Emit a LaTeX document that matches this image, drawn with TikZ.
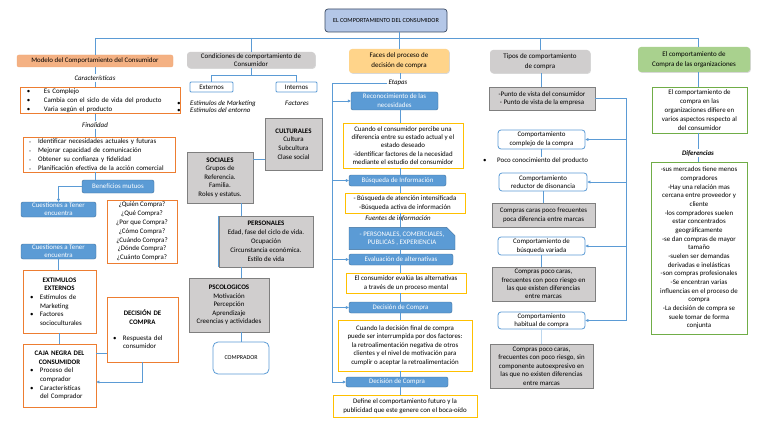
\documentclass[tikz,border=0pt]{standalone}
\usepackage{fontspec}
\setmainfont{Carlito}
\usetikzlibrary{arrows.meta,shapes.misc,shadows}

\definecolor{lineblue}{HTML}{5B9BD5}
\definecolor{bluefill}{HTML}{5B9BD5}
\definecolor{blueedge}{HTML}{41719C}
\definecolor{titlefill}{HTML}{B4C7E7}
\definecolor{titleedge}{HTML}{3A4A63}
\definecolor{salmon}{HTML}{F4B183}
\definecolor{orangeedge}{HTML}{ED7D31}
\definecolor{yellowedge}{HTML}{FFC000}
\definecolor{facesfill}{HTML}{FFD48A}
\definecolor{greyfill}{HTML}{D0CECE}
\definecolor{greyedge}{HTML}{7F7F7F}
\definecolor{greenfill}{HTML}{A9D18E}
\definecolor{greenedge}{HTML}{70AD47}

\newcommand\itembul[1]{\makebox[#1][l]{\textbullet}}
\newcommand\itemgap[1]{\makebox[#1]{}}
\newcommand\smallbul{\makebox[9pt][l]{\color{greyedge}\fontsize{4}{4}\selectfont\textbullet}}

\begin{document}
\begin{tikzpicture}[x=1pt,y=-1pt]

 \tikzset{
    every node/.style={font=\fontsize{6.9}{8.6}\selectfont, inner sep=1pt, align=center},
    sz/.style 2 args={minimum width=#1pt, minimum height=#2pt},
    conn/.style={draw=lineblue, line width=0.6pt},
    arrowconn/.style={conn, -{Triangle[length=3pt,width=2.8pt]}},
    shade/.style={drop shadow={shadow xshift=0.8pt, shadow yshift=-0.8pt, opacity=0.3}},
    titlebox/.style={draw=titleedge, line width=0.7pt, fill=titlefill, rounded corners=3pt},
    headbox/.style={fill=#1, rounded corners=3pt, shade},
    bluebox/.style={draw=blueedge, fill=bluefill, text=white, rounded corners=2pt},
    orangebox/.style={draw=orangeedge, line width=0.8pt, fill=white},
    yellowbox/.style={draw=yellowedge, line width=0.8pt, fill=white},
    greybox/.style={draw=greyedge, fill=greyfill, shade},
    outlinebox/.style={draw=lineblue, line width=0.8pt, fill=white, rounded corners=3pt},
    lbl/.style={font=\fontsize{6.9}{8.6}\selectfont\itshape},
  }

  \useasboundingbox[fill=white] (0,0) rectangle (768,433);

  % title and top bar
  \node[titlebox, sz={122}{23}, font=\fontsize{6.2}{7}\selectfont] (title) at (386,20.5) {EL COMPORTAMIENTO DEL CONSUMIDOR};
  \coordinate (bar) at (0,38);

  % column 1: modelo
  \node[fill=salmon, draw=salmon!85!orangeedge, rounded corners=2pt, sz={156}{12}] (modelo) at (95,61) {Modelo del Comportamiento del Consumidor};
  \node[lbl] (caract) at (95,78) {Características};
  \node[orangebox, sz={160}{25}, text width=146pt, align=left, font=\fontsize{6.9}{9}\selectfont] (caracbox) at (100,100.5)
    {\itembul{17pt}Es Complejo\\ \itembul{17pt}Cambia con el siclo de vida del producto\\ \itembul{17pt}Varia según el producto};
  \node[lbl] (finalidad) at (95,125) {Finalidad};
  \node[orangebox, sz={152}{35}, text width=140pt, align=left, font=\fontsize{6.9}{9}\selectfont] (finalbox) at (99,154.5)
    {\smallbul Identificar necesidades actuales y futuras\\ \smallbul Mejorar capacidad de comunicación\\
     \smallbul Obtener su confianza y fidelidad\\ \smallbul Planificación efectiva de la acción comercial};
  \node[bluebox, sz={72}{13}] (benef) at (118,186.5) {Beneficios mutuos};
  \node[bluebox, sz={75}{15}, font=\fontsize{6.9}{8}\selectfont] (cuest1) at (58.5,209.5) {Cuestiones a Tener\\encuentra};
  \node[orangebox, sz={70}{63}, font=\fontsize{6.9}{8.8}\selectfont] (preguntas) at (142,231.5)
    {¿Quién Compra?\\¿Qué Compra?\\¿Por que Compra?\\¿Cómo Compra?\\¿Cuándo Compra?\\¿Dónde Compra?\\¿Cuánto Compra?};
  \node[bluebox, sz={75}{15}, font=\fontsize{6.9}{8}\selectfont] (cuest2) at (58.5,251.5) {Cuestiones a Tener\\encuentra};
  \node[orangebox, sz={73}{63}, text width=59pt, align=left] (extim) at (59.5,301.5)
    {\makebox[\linewidth]{\textbf{EXTIMULOS}}\\ \makebox[\linewidth]{\textbf{EXTERNOS}}\\
     \itembul{10pt}Estímulos de\\ \itemgap{10pt}Marketing\\ \itembul{10pt}Factores\\ \itemgap{10pt}socioculturales};
  \node[orangebox, sz={73}{63}, text width=59pt, align=left] (caja) at (59.5,375.5)
    {\makebox[\linewidth]{\textbf{CAJA NEGRA DEL}}\\ \makebox[\linewidth]{\textbf{CONSUMIDOR}}\\
     \itembul{10pt}Proceso del\\ \itemgap{10pt}comprador\\ \itembul{10pt}Características\\ \itemgap{10pt}del Comprador};
  \node[orangebox, sz={71}{65}, text width=59pt, align=left] (decis) at (142.5,329.5)
    {\makebox[\linewidth]{\textbf{DECISIÓN DE}}\\ \makebox[\linewidth]{\textbf{COMPRA}}\\[7pt]
     \itembul{10pt}Respuesta del\\ \itemgap{10pt}consumidor};

  % column 2: condiciones
  \node[headbox=greyfill, sz={128}{16}, font=\fontsize{6.9}{8}\selectfont] (condic) at (251,60) {Condiciones de comportamiento de\\Consumidor};
  \node[outlinebox, rounded corners=1pt, sz={43}{10}] (externos) at (211.5,87) {Externos};
  \node[outlinebox, rounded corners=1pt, sz={41}{10}] (internos) at (296.5,87) {Internos};
  \node[lbl, anchor=west, align=left, font=\fontsize{6.9}{7.4}\selectfont\itshape] (estimulos) at (176,106.5)
    {\itembul{13pt}Estímulos de Marketing\\ \itembul{13pt}Estímulos del entorno};
  \node[lbl] (factores) at (297,103) {Factores};
  \node[greybox, sz={57}{52}] (cultur) at (293.5,144) {\textbf{CULTURALES}\\Cultura\\Subcultura\\Clase social};
  \node[greybox, sz={66}{51}] (socia) at (220,177.5) {\textbf{SOCIALES}\\Grupos de\\Referencia.\\Familia.\\Roles y estatus.};
  \node[greybox, sz={94}{51}, font=\fontsize{6.9}{9}\selectfont] (perso) at (266,241.5)
    {\textbf{PERSONALES}\\Edad, fase del ciclo de vida.\\Ocupación\\Circunstancia económica.\\Estilo de vida};
  \node[greybox, sz={80}{54}] (psico) at (229,305) {\textbf{PSCOLOGICOS}\\Motivación\\Percepción\\Aprendizaje\\Creencias y actividades};
  \node[outlinebox, rounded corners=5pt, sz={56}{32}, font=\fontsize{6}{7}\selectfont] (compr) at (241,358) {COMPRADOR};

  % column 3: faces
  \node[headbox=facesfill, sz={100}{24}, font=\fontsize{7}{10}\selectfont] (faces) at (399,61) {Faces del proceso de\\decisión de compra};
  \node[lbl] (etapas) at (398,83) {Etapas};
  \node[bluebox, sz={87}{18}, font=\fontsize{6.9}{9}\selectfont] (recon) at (394.5,101) {Reconocimiento de las\\necesidades};
  \node[yellowbox, sz={120}{45}, font=\fontsize{6.9}{8.4}\selectfont] (yel1) at (403,145.5)
    {Cuando el consumidor percibe una\\diferencia entre su estado actual y el\\estado deseado\\-identificar factores de la necesidad\\mediante el estudio del consumidor};
  \node[bluebox, sz={97}{11}] (busq) at (397.5,180.5) {Búsqueda de Información};
  \node[yellowbox, sz={120}{20}, font=\fontsize{6.9}{8.4}\selectfont] (yel2) at (405,203)
    {- Búsqueda de atención intensificada\\-Búsqueda activa de información};
  \node[lbl] (fuentes) at (398,219) {Fuentes de información};
  \node[bluebox, chamfered rectangle, chamfered rectangle corners=north east, chamfered rectangle xsep=5pt,
        rounded corners=0pt, sz={106}{21}, font=\fontsize{6.9}{8.4}\selectfont] (pcpe) at (402,238.5)
    {- PERSONALES, COMERCIALES,\\PUBLICAS , EXPERIENCIA};
  \node[bluebox, sz={104}{11}] (eval) at (401,259.5) {Evaluación de alternativas};
  \node[yellowbox, sz={120}{20}, font=\fontsize{6.9}{8.4}\selectfont] (yel3) at (406,283)
    {El consumidor evalúa las alternativas\\a través de un proceso mental};
  \node[bluebox, sz={103}{11}] (dec1) at (400.5,307.5) {Decisión de Compra};
  \node[yellowbox, sz={134}{51}, font=\fontsize{6.9}{8.4}\selectfont] (yel4) at (405,345.5)
    {Cuando la decisión final de compra\\puede ser interrumpida por dos factores:\\la retroalimentación negativa de otros\\clientes y el nivel de motivación para\\cumplir o aceptar la retroalimentación};
  \node[bluebox, sz={102}{10}] (dec2) at (397,382) {Decisión de Compra};
  \node[yellowbox, sz={144}{22}, font=\fontsize{6.9}{8.4}\selectfont] (yel5) at (405,406)
    {Define el comportamiento futuro y la\\publicidad que este genere con el boca-oído};

  % column 4: tipos
  \node[headbox=greyfill, sz={100}{23}, font=\fontsize{7}{10}\selectfont] (tipos) at (540,61.5) {Tipos de comportamiento\\de compra};
  \node[greybox, sz={106}{23}] (punto) at (542,98.5) {-Punto de vista del consumidor\\- Punto de vista de la empresa};
  \node[outlinebox, sz={87}{19}] (complejo) at (541.5,139.5) {Comportamiento\\complejo de la compra};
  \node[anchor=west] (poco) at (482,161) {\itembul{14pt}Poco conocimiento del producto};
  \node[outlinebox, sz={88}{18}] (reductor) at (543,182) {Comportamiento\\reductor de disonancia};
  \node[greybox, sz={103}{24}] (gris1) at (543.5,215) {Compras caras poco frecuentes\\poca diferencia entre marcas};
  \node[outlinebox, sz={87}{18}] (variada) at (541.5,246) {Comportamiento de\\búsqueda variada};
  \node[greybox, sz={103}{34}, font=\fontsize{6.9}{8.3}\selectfont] (gris2) at (543.5,284)
    {Compras poco caras,\\frecuentes con poco riesgo en\\las que existen diferencias\\entre marcas};
  \node[outlinebox, sz={87}{17}] (habitual) at (541.5,320.5) {Comportamiento\\habitual de compra};
  \node[greybox, sz={103}{44}] (gris3) at (541.5,366)
    {Compras poco caras,\\frecuentes con poco riesgo, sin\\componente autoexpresivo  en\\las que no existen diferencias\\entre marcas};

  % column 5: organizaciones
  \node[headbox=greenfill, sz={112}{25}, font=\fontsize{7}{10}\selectfont] (verde) at (694,59.5) {El comportamiento de\\Compra de las organizaciones};
  \node[draw=greenedge, line width=0.8pt, fill=white, sz={95}{46}, font=\fontsize{6.9}{9}\selectfont] (orgbox) at (699.5,110)
    {El comportamiento de\\compra en las\\organizaciones difiere en\\varios aspectos respecto al\\del consumidor};
  \node[font=\fontsize{6.9}{8.6}\selectfont\bfseries\itshape] (difer) at (698,153) {Diferencias};
  \node[draw=greenedge, line width=0.8pt, fill=white, sz={96}{172}, font=\fontsize{6.9}{8.67}\selectfont] (difbox) at (699,248)
    {-sus mercados tiene  menos\\compradores\\-Hay una relación mas\\cercana entre proveedor y\\cliente\\-los compradores suelen\\estar concentrados\\geográficamente\\-se dan compras de mayor\\tamaño\\-suelen ser demandas\\derivadas e inelásticas\\-son compras profesionales\\-Se encentran varias\\influencias en el proceso de\\compra\\-La decisión de compra se\\suele tomar de forma\\conjunta};

  % connectors: top
  \coordinate (c1) at (95,0);
  \coordinate (c2) at (241,0);
  \coordinate (c3) at (400,0);
  \coordinate (c4) at (541,0);
  \coordinate (c5) at (698,0);
  \draw[conn] (modelo.north |- bar) -- (c5 |- bar);
  \foreach \n in {modelo,condic,tipos}
    \draw[conn] (\n.north |- bar) -- (\n.north);
  \draw[conn] (c5 |- bar) -- (verde.north -| c5);
  \draw[conn] (title.south -| faces.north) -- (faces.north);

  % connectors: column 1
  \draw[conn] (modelo.south -| c1) -- (caract.north -| c1);
  \draw[conn] (caract.south -| c1) -- (caracbox.north -| c1);
  \draw[conn] (caracbox.south -| c1) -- (finalidad.north -| c1);
  \draw[conn] (finalidad.south -| c1) -- (finalbox.north -| c1);
  \draw[conn] (finalbox.south -| c1) -- (benef.north -| c1);
  \draw[arrowconn] (benef.west) -| (cuest1.north);
  \draw[conn] (cuest2.south) -- (cuest2.south |- extim.north);
  \draw[conn] (extim.south) -- (extim.south |- caja.north);
  \draw[conn] (caja.east |- 0,353) -- (decis.west |- 0,353);
  \draw[arrowconn] (decis.south) |- (caja.east |- 0,382);

  % connectors: column 2
  \draw[conn] (condic.south) -- (condic.south |- 0,75);
  \draw[conn] (externos.north) -- (externos.north |- 0,75) -- (internos.north |- 0,75) -- (internos.north);
  \draw[conn] (socia.east |- 0,159) -- (cultur.west |- 0,159);
  \draw[conn] (socia.south -| c2) -- (perso.north -| c2);
  \draw[conn] (perso.south -| c2) -- (psico.north -| c2);
  \draw[conn] (psico.south -| c2) -- (compr.north -| c2);
  \draw[draw=lineblue, line width=1.2pt] (perso.north west) -- (perso.south west);

  % connectors: column 3
  \coordinate (rail) at (332,83);
  \draw[conn] (faces.south -| c3) -- (etapas.north -| c3);
  \draw[conn] (etapas.west) -- (rail) -- (rail |- dec2.west);
  \foreach \n in {recon,busq,eval,dec1,dec2}
    \draw[arrowconn] (rail |- \n.west) -- (\n.west);
  \draw[conn] (recon.south -| c3) -- (yel1.north -| c3);
  \draw[conn] (yel1.south -| c3) -- (busq.north -| c3);
  \draw[conn] (busq.south -| c3) -- (yel2.north -| c3);
  \draw[conn] (yel2.south -| c3) -- (pcpe.north -| c3);
  \draw[conn] (pcpe.south -| c3) -- (eval.north -| c3);
  \draw[conn] (eval.south -| c3) -- (yel3.north -| c3);
  \draw[conn] (yel3.south -| c3) -- (dec1.north -| c3);
  \draw[conn] (dec1.south -| c3) -- (yel4.north -| c3);
  \draw[conn] (yel4.south -| c3) -- (dec2.north -| c3);
  \draw[conn] (dec2.south -| c3) -- (yel5.north -| c3);

  % connectors: column 4
  \coordinate (rail4) at (626,98.5);
  \draw[conn] (tipos.south -| c4) -- (punto.north -| c4);
  \draw[conn] (punto.east) -- (rail4) -- (rail4 |- habitual.east);
  \foreach \n in {complejo,reductor,variada,habitual}
    \draw[arrowconn] (rail4 |- \n.east) -- (\n.east);
  \draw[conn] (complejo.south) -- (complejo.south |- poco.north);
  \draw[conn] (reductor.south) -- (reductor.south |- gris1.north);
  \draw[conn] (variada.south) -- (variada.south |- gris2.north);
  \draw[conn, draw=lineblue!40] (habitual.south) -- (habitual.south |- gris3.north);

  % connectors: column 5
  \draw[conn] (verde.south -| c5) -- (orgbox.north -| c5);
  \draw[conn] (orgbox.south -| c5) -- (difer.north -| c5);
  \draw[conn] (difer.south -| c5) -- (difbox.north -| c5);
\end{tikzpicture}
\end{document}
